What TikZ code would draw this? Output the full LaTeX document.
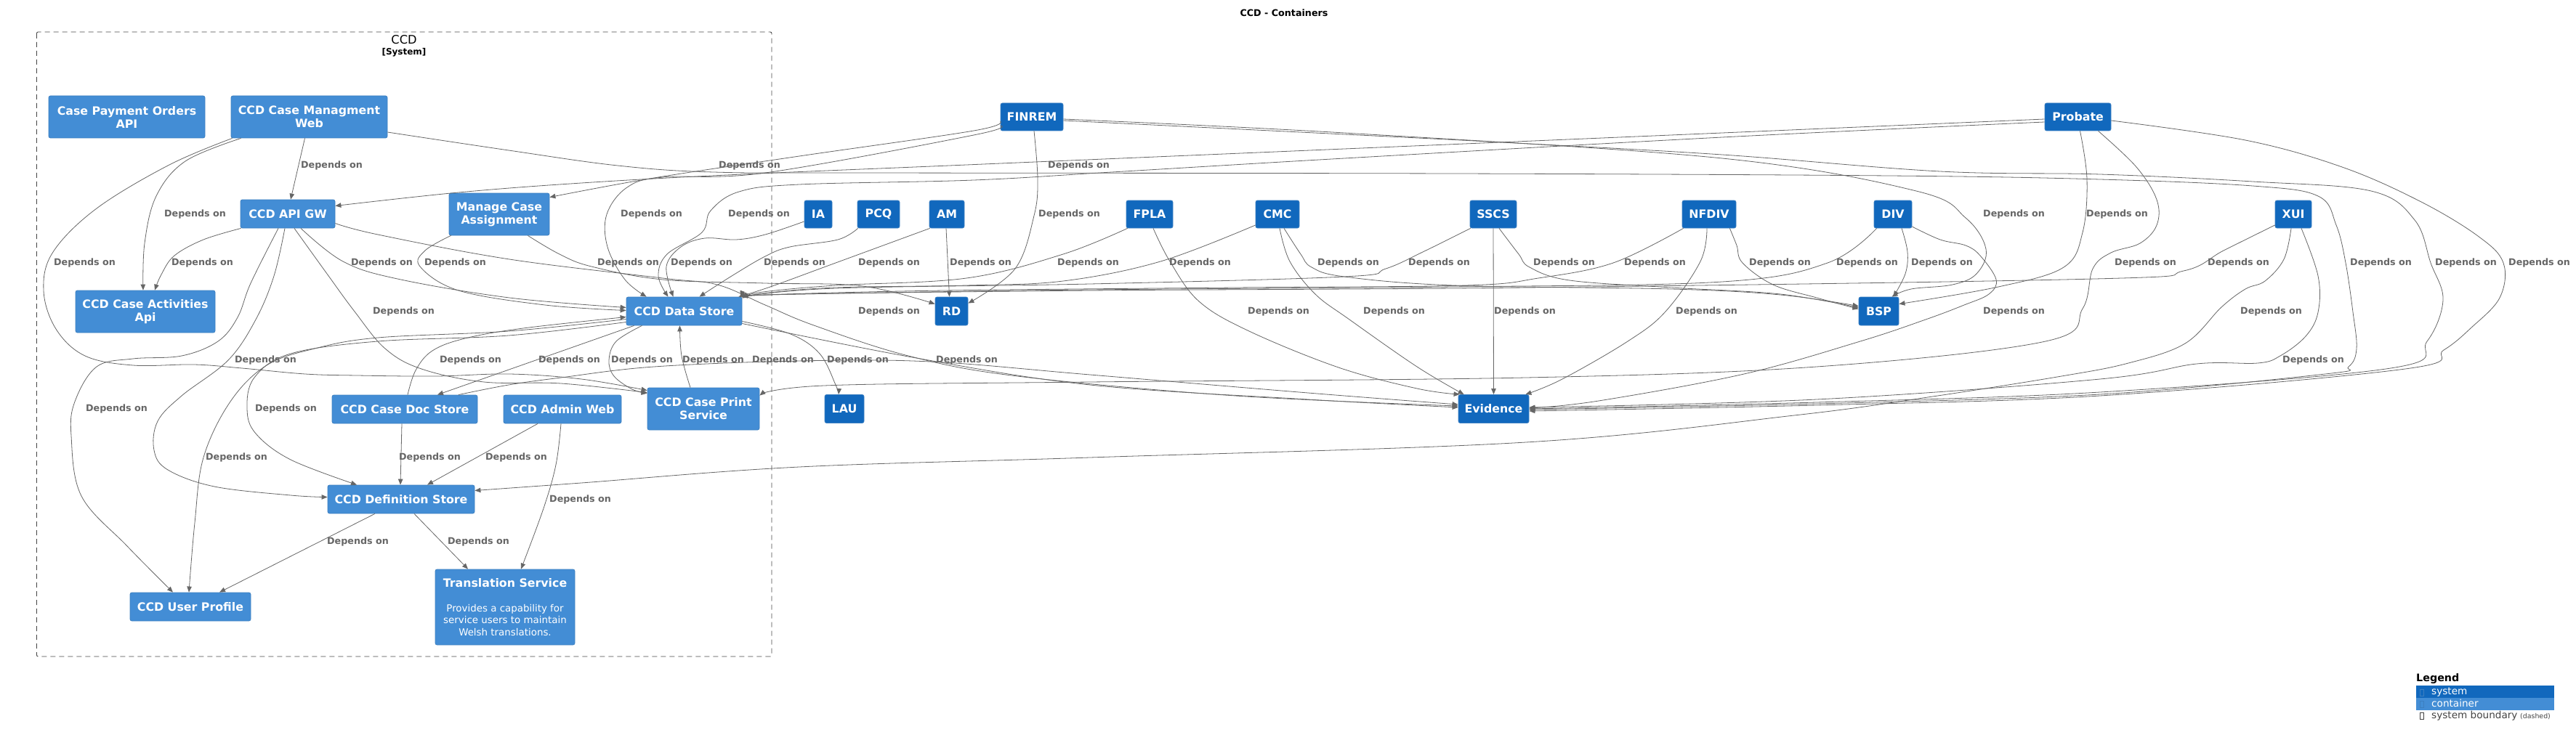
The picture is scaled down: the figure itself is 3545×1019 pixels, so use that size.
\documentclass[tikz,border=0pt]{standalone}
\usepackage{xcolor}
\usepackage{fontspec}
\setmainfont{DejaVu Sans}
\usepackage{tikz}
\usetikzlibrary{arrows.meta}

\definecolor{sysblue}{HTML}{1168BD}
\definecolor{contblue}{HTML}{438DD5}
\definecolor{boxline}{HTML}{3C7FC0}
\definecolor{relgray}{HTML}{666666}
\definecolor{bndgray}{HTML}{444444}

\newcommand{\ccdname}{\fontsize{15.8}{18}\selectfont\bfseries}
\newcommand{\ccdlbl}{\fontsize{12.7}{15}\selectfont\bfseries}
\newcommand{\ccddesc}{\fontsize{13.4}{16.7}\selectfont}
\newcommand{\ccdtitle}{\fontsize{12.7}{15}\selectfont\bfseries}
\newcommand{\ccdbnd}{\fontsize{16.2}{19}\selectfont}
\newcommand{\ccdbndtype}{\fontsize{12}{14}\selectfont\bfseries}
\newcommand{\ccdleg}{\fontsize{13.6}{16}\selectfont}
\newcommand{\ccdlegtitle}{\fontsize{14.3}{17}\selectfont\bfseries}
\newcommand{\ccdlegsmall}{\fontsize{9.4}{11}\selectfont}

\begin{document}
\begin{tikzpicture}[
    x=1pt, y=-1pt,
    cont/.style={rectangle, draw=boxline, line width=0.8pt, fill=contblue, rounded corners=2.5pt, text=white, font=\ccdname, minimum height=39pt, inner sep=0pt, align=center},
    sys/.style={cont, fill=sysblue},
    lbl/.style={font=\ccdlbl, text=relgray, inner sep=0pt, anchor=west},
    rel/.style={draw=relgray, line width=0.8pt, -{Triangle[length=8pt,width=6.5pt]}},
    curvy/.style={smooth, tension=0.6},
    boundary/.style={draw=bndgray, line width=0.9pt, dash pattern=on 7pt off 5pt, rounded corners=2pt},
    legbar/.style={anchor=north west, minimum width=190pt, minimum height=16.7pt, inner sep=0pt},
    legtxt/.style={anchor=base west, font=\ccdleg, inner sep=0pt}
]
    \useasboundingbox (0,0) rectangle (3545,1019);

    \node[font=\ccdtitle] (title) at (1767,18) {CCD - Containers};

    % CCD system boundary
    \draw[boundary] (50.5,44) rectangle (1062,904);
    \node[font=\ccdbnd] (bndname) at (556,55) {CCD};
    \node[font=\ccdbndtype] (bndtype) at (556,72) {[System]};

    % Containers
    \node[cont, minimum width=215pt, minimum height=58pt] (cpo) at (174.5,161) {Case Payment Orders\\API};
    \node[cont, minimum width=215pt, minimum height=58pt] (cmw) at (425.5,161) {CCD Case Managment\\Web};
    \node[cont, minimum width=130pt] (apigw) at (396,294.5) {CCD API GW};
    \node[cont, minimum width=138pt, minimum height=58pt] (mca) at (687,295) {Manage Case\\Assignment};
    \node[cont, minimum width=192pt, minimum height=58pt] (caa) at (200,429) {CCD Case Activities\\Api};
    \node[cont, minimum width=159pt] (ds) at (941.5,428.5) {CCD Data Store};
    \node[cont, minimum width=200pt] (docstore) at (557,563.5) {CCD Case Doc Store};
    \node[cont, minimum width=162pt] (adminweb) at (774,563.5) {CCD Admin Web};
    \node[cont, minimum width=154pt, minimum height=58pt] (print) at (968,563) {CCD Case Print\\Service};
    \node[cont, minimum width=202pt] (defstore) at (552,687.5) {CCD Definition Store};
    \node[cont, minimum width=166pt] (userprofile) at (262,835.5) {CCD User Profile};
    \node[cont, minimum width=192pt, minimum height=104pt, font=\ccddesc] (translation) at (695,836) {{\ccdname Translation Service}\\[17pt]Provides a capability for\\service users to maintain\\Welsh translations.};

    % External systems
    \node[sys, minimum width=86pt, minimum height=38pt] (finrem) at (1420,161) {FINREM};
    \node[sys, minimum width=91pt, minimum height=38pt] (probate) at (2859.5,161) {Probate};
    \node[sys, minimum width=38pt, minimum height=38pt] (ia) at (1126,295) {IA};
    \node[sys, minimum width=58pt, minimum height=38pt] (pcq) at (1209,295) {PCQ};
    \node[sys, minimum width=48pt, minimum height=38pt] (am) at (1303,295) {AM};
    \node[sys, minimum width=64pt, minimum height=38pt] (fpla) at (1582,295) {FPLA};
    \node[sys, minimum width=60pt, minimum height=38pt] (cmc) at (1758,295) {CMC};
    \node[sys, minimum width=64pt, minimum height=38pt] (sscs) at (2055,295) {SSCS};
    \node[sys, minimum width=74pt, minimum height=38pt] (nfdiv) at (2352,295) {NFDIV};
    \node[sys, minimum width=52pt, minimum height=38pt] (div) at (2605,295) {DIV};
    \node[sys, minimum width=50pt, minimum height=38pt] (xui) at (3156,295) {XUI};
    \node[sys, minimum width=45pt] (rd) at (1309.5,428.5) {RD};
    \node[sys, minimum width=55pt] (bsp) at (2585.5,428.5) {BSP};
    \node[sys, minimum width=54pt] (lau) at (1162,563) {LAU};
    \node[sys, minimum width=97pt] (evidence) at (2055.5,563) {Evidence};

    % Case management web
    \draw[rel] ([xshift=-6pt]cmw.south) -- ([xshift=4pt]apigw.north);
    \draw[rel] plot[curvy] coordinates {([xshift=14pt]cmw.south west) (255,222) (215,270) (199,335) ([xshift=-3pt]caa.north)};
    \draw[rel] plot[curvy] coordinates {([xshift=2pt]cmw.south west) (233,227) (133,287) (73,347) (60,400) (77,453) (117,490) (183,503) (267,502) (333,507) (420,515) (491,517) (600,518) (701,515) (800,522) ([yshift=-4pt]print.north west)};
    \draw[rel] plot[curvy] coordinates {([yshift=-21pt]cmw.east) (700,207) (850,228) (982,237) (1200,238) (2000,239) (2600,242) (2890,247) (3100,256) (3190,270) (3215,310) (3228,362) (3238,430) (3243,480) (3232,505) (3200,515) (2890,543) (2500,556) ([yshift=-1pt]evidence.east)};

    % FINREM
    \draw[rel] plot[curvy] coordinates {([yshift=-6pt]finrem.west) (1340,180) (1100,215) (900,245) ([yshift=-6pt]mca.north east)};
    \draw[rel] plot[curvy] coordinates {([yshift=-12pt]finrem.west) (1340,186) (1053,238) (912,244) (863,258) (835,295) (836,340) (860,385) ([xshift=28pt]ds.north west)};
    \draw[rel] plot[curvy] coordinates {([xshift=3pt]finrem.south) (1428,247) (1423,297) (1397,370) ([yshift=-9pt]rd.north east)};
    \draw[rel] plot[curvy] coordinates {([yshift=-3pt]finrem.east) (1850,183) (2370,218) (2637,263) (2705,300) (2733,343) (2720,377) (2687,392) (2630,398) ([xshift=18pt]bsp.north)};
    \draw[rel] plot[curvy] coordinates {([yshift=-5pt]finrem.east) (1850,185) (2067,196) (2370,213) (2670,236) (2890,240) (3100,250) (3263,263) (3323,303) (3345,362) (3362,413) (3340,470) (3290,507) (2890,540) (2500,554) (evidence.east)};

    % Probate
    \draw[rel] plot[curvy] coordinates {([yshift=-3pt]probate.west) (2370,183) (1850,205) (1330,227) (1000,241) (800,252) (631,265) ([yshift=11pt]apigw.east)};
    \draw[rel] plot[curvy] coordinates {([yshift=-7pt]probate.west) (2370,189) (1850,218) (1530,237) (1340,248) (1100,254) (1017,264) (978,290) (966,320) (918,350) (906,380) ([xshift=-22pt]ds.north)};
    \draw[rel] plot[curvy] coordinates {([xshift=3pt]probate.south) (2872,247) (2866,320) (2840,368) (2750,395) ([yshift=-10pt]bsp.north east)};
    \draw[rel] plot[curvy] coordinates {([xshift=28pt]probate.south) (2940,230) (2968,275) (2968,310) (2945,335) (2905,348) (2880,370) (2866,425) (2815,470) (2500,505) (2100,520) (1500,526) (1134,531) ([yshift=-11pt]print.north east)};
    \draw[rel] plot[curvy] coordinates {([yshift=-5pt]probate.east) (3090,193) (3223,230) (3330,277) (3410,325) (3445,362) (3440,410) (3400,452) (3363,482) (3310,508) (2890,545) (2500,558) ([yshift=-3pt]evidence.east)};

    % API gateway
    \draw[rel] plot[curvy] coordinates {([xshift=1pt]apigw.south west) (280,330) (240,352) (222,378) ([xshift=13pt]caa.north)};
    \draw[rel] plot[curvy] coordinates {([xshift=18pt]apigw.south) (472,360) (547,384) (701,410) ([yshift=5pt]ds.west)};
    \draw[rel] plot[curvy] coordinates {([xshift=9pt]apigw.south) (450,377) (488,429) (530,480) (580,508) (666,526) (772,528) ([yshift=-7pt]print.north west)};
    \draw[rel] plot[curvy] coordinates {([yshift=-13pt]apigw.east) (520,323) (701,357) (912,383) (987,392) (1053,420) (1120,448) (1250,490) (1400,518) (1700,545) ([yshift=4pt]evidence.west)};
    \draw[rel] plot[curvy] coordinates {([xshift=-4pt]apigw.south) (377,380) (352,440) (314,496) (250,545) (217,580) (212,620) (231,647) (295,670) (400,682) ([yshift=3pt]defstore.west)};
    \draw[rel] plot[curvy] coordinates {([xshift=-13pt]apigw.south) (345,390) (327,437) (300,470) (250,490) (183,494) (133,505) (103,553) (98,600) (112,683) (175,752) ([xshift=-24pt]userprofile.north)};

    % Manage case assignment and small services
    \draw[rel] plot[curvy] coordinates {([xshift=3pt]mca.south west) (585,345) (578,367) (631,400) (750,420) ([yshift=1pt]ds.west)};
    \draw[rel] plot[curvy] coordinates {([xshift=-30pt]mca.south east) (770,350) (814,367) (912,385) (1053,390) (1187,394) ([yshift=-10pt]rd.north west)};
    \draw[rel] plot[curvy] coordinates {([yshift=-10pt]ia.west) (1053,323) (1013,330) (970,328) (937,340) (917,367) ([xshift=-15pt]ds.north)};
    \draw[rel] plot[curvy] coordinates {([xshift=1pt]pcq.south west) (1153,330) (1087,340) (1053,353) (1007,380) ([xshift=21pt]ds.north)};
    \draw[rel] plot[curvy] coordinates {([xshift=1pt]am.south west) (1150,362) (1060,395) ([xshift=-5pt]ds.north east)};
    \draw[rel] ([xshift=-1pt]am.south) -- ([xshift=-3pt]rd.north);

    % Service teams
    \draw[rel] plot[curvy] coordinates {([xshift=2pt]fpla.south west) (1463,350) (1330,383) (1150,393) (1050,402) ([yshift=-1pt]ds.north east)};
    \draw[rel] plot[curvy] coordinates {([xshift=5pt]fpla.south) (1610,360) (1650,415) (1719,456) (1842,506) (1950,535) ([xshift=2pt]evidence.north west)};
    \draw[rel] plot[curvy] coordinates {([yshift=-15pt]cmc.west) (1597,360) (1463,387) (1330,393) (1150,396) (1050,404) ([yshift=-2pt]ds.north east)};
    \draw[rel] plot[curvy] coordinates {([xshift=9pt]cmc.south) (1790,350) (1805,368) (1850,381) (2000,393) (2300,398) (2450,406) ([yshift=7pt]bsp.west)};
    \draw[rel] plot[curvy] coordinates {([xshift=3pt]cmc.south) (1775,360) (1810,405) (1857,440) (1950,505) ([xshift=8pt]evidence.north west)};
    \draw[rel] plot[curvy] coordinates {([xshift=1pt]sscs.south west) (1960,346) (1907,370) (1850,381) (1500,391) (1150,397) (ds.north east)};
    \draw[rel] plot[curvy] coordinates {([xshift=8pt]sscs.south) (2090,350) (2105,368) (2160,386) (2300,396) (2450,405) ([yshift=5pt]bsp.west)};
    \draw[rel] (sscs.south) -- (evidence.north);
    \draw[rel] plot[curvy] coordinates {([xshift=2pt]nfdiv.south west) (2220,362) (2117,383) (2017,393) (1700,396) (1300,400) (1080,405) ([xshift=-1pt]ds.north east)};
    \draw[rel] plot[curvy] coordinates {([xshift=-9pt]nfdiv.south east) (2390,338) (2398,362) (2440,392) (2500,410) ([yshift=3pt]bsp.west)};
    \draw[rel] plot[curvy] coordinates {([xshift=-3pt]nfdiv.south) (2340,360) (2292,429) (2240,470) (2150,522) ([xshift=-5pt]evidence.north east)};
    \draw[rel] plot[curvy] coordinates {([xshift=4pt]div.south west) (2515,362) (2370,388) (2000,395) (1500,399) (1100,405) ([xshift=-2pt]ds.north east)};
    \draw[rel] plot[curvy] coordinates {([xshift=12pt]div.south) (2625,347) (2622,377) ([xshift=20pt]bsp.north)};
    \draw[rel] plot[curvy] coordinates {([yshift=-17pt]div.east) (2670,330) (2705,338) (2725,352) (2747,385) (2737,405) (2703,420) (2650,440) (2560,470) (2400,515) (2200,552) ([yshift=1pt]evidence.east)};
    \draw[rel] plot[curvy] coordinates {([yshift=-15pt]xui.west) (3060,345) (3005,373) (2883,384) (2100,396) (1500,400) (1100,405) ([xshift=-3pt]ds.north east)};
    \draw[rel] plot[curvy] coordinates {([xshift=-3pt]xui.south) (3143,357) (3117,387) (3090,398) (3057,423) (3007,473) (2929,500) (2837,518) (2653,547) (2469,572) (2100,609) (1500,630) (1100,643) (800,665) ([yshift=12pt]defstore.east)};
    \draw[rel] plot[curvy] coordinates {([xshift=11pt]xui.south) (3190,380) (3190,430) (3173,463) (3138,490) (3107,500) (3023,501) (2890,522) (2500,550) ([yshift=2pt]evidence.east)};

    % Data store and friends
    \draw[rel] ([xshift=11pt]ds.south west) -- ([xshift=45pt]docstore.north);
    \draw[rel] plot[curvy] coordinates {([xshift=4pt]docstore.north) (572,510) (595,483) (640,466) (720,452) ([yshift=-8pt]ds.west)};
    \draw[rel] plot[curvy] coordinates {([xshift=-58pt]ds.south) (848,470) (838,496) (845,518) (870,536) ([yshift=-8pt]print.north west)};
    \draw[rel] plot[curvy] coordinates {([xshift=-18pt]print.north) (938,490) ([xshift=-6pt]ds.south)};
    \draw[rel] plot[curvy] coordinates {([yshift=-14pt]ds.east) (1088,460) (1128,487) (1150,530) ([xshift=-8pt]lau.north)};
    \draw[rel] plot[curvy] coordinates {([yshift=-17pt]ds.east) (1261,493) (1500,530) (1800,550) ([yshift=2pt]evidence.west)};
    \draw[rel] plot[curvy] coordinates {([xshift=74pt]docstore.north) (700,530) (772,520) (900,505) (1100,497) (1280,498) (1500,516) (1800,541) ([yshift=6pt]evidence.west)};
    \draw[rel] plot[curvy] coordinates {([yshift=-11pt]ds.west) (700,456) (520,465) (433,480) (367,503) (317,553) (280,630) (268,720) ([xshift=-2pt]userprofile.north)};
    \draw[rel] plot[curvy] coordinates {([yshift=-15pt]ds.west) (700,462) (520,470) (400,487) (350,520) (340,563) (352,597) (400,633) ([xshift=-61pt]defstore.north)};
    \draw[rel] ([xshift=-4pt]docstore.south) -- ([xshift=-1pt]defstore.north);
    \draw[rel] ([xshift=-34pt]adminweb.south) -- ([xshift=36pt]defstore.north);
    \draw[rel] plot[curvy] coordinates {([xshift=-2pt]adminweb.south) (765,640) (748,700) ([xshift=22pt]translation.north)};
    \draw[rel] ([xshift=-36pt]defstore.south) -- ([xshift=40pt]userprofile.north);
    \draw[rel] ([xshift=18pt]defstore.south) -- ([xshift=-51pt]translation.north);

    % Relationship labels
    \foreach \lx/\ly [count=\i] in {414/228, 989/228, 1442/228,
        226/295, 854/295, 1002/295, 1429/295, 2729/295, 2871/295,
        74/362, 236/362, 483/362, 584/362, 822/362, 923/362, 1051/362, 1181/362, 1307/362, 1455/362, 1609/362, 1813/362, 1938/362, 2110/362, 2235/362, 2407/362, 2527/362, 2630/362, 2910/362, 3038/362, 3234/362, 3351/362, 3452/362,
        513/429, 1181/429, 1717/429, 1876/429, 2056/429, 2306/429, 2729/429, 3083/429,
        323/496, 605/496, 741/496, 841/496, 939/496, 1035/496, 1138/496, 1288/496, 3141/496,
        118/563, 351/563, 283/630, 549/630, 668/630, 756/688, 450/746, 616/746}
        \node[lbl] (l\i) at (\lx,\ly) {Depends on};

    % Legend
    \node[font=\ccdlegtitle, anchor=base west, inner sep=0pt] (legtitle) at (3325,938.5) {Legend};
    \node[legbar, fill=sysblue] (legsys) at (3325,944) {};
    \node[legbar, fill=contblue] (legcont) at (3325,960.7) {};
    \draw[draw=boxline, line width=0.6pt] (3330,949) rectangle (3335.3,958.3);
    \draw[draw=boxline, line width=0.6pt] (3330,965.3) rectangle (3335.3,974.7);
    \draw[draw=bndgray, line width=0.6pt] (3330,981.3) rectangle (3335.3,990.7);
    \node[legtxt, text=white] (legsystxt) at (3346,956.5) {system};
    \node[legtxt, text=white] (legconttxt) at (3346,973.5) {container};
    \node[legtxt, text=bndgray] (legbndtxt) at (3346,989) {system boundary};
    \node[legtxt, font=\ccdlegsmall, text=bndgray] (legdashed) at (3468,989) {(dashed)};
\end{tikzpicture}
\end{document}
